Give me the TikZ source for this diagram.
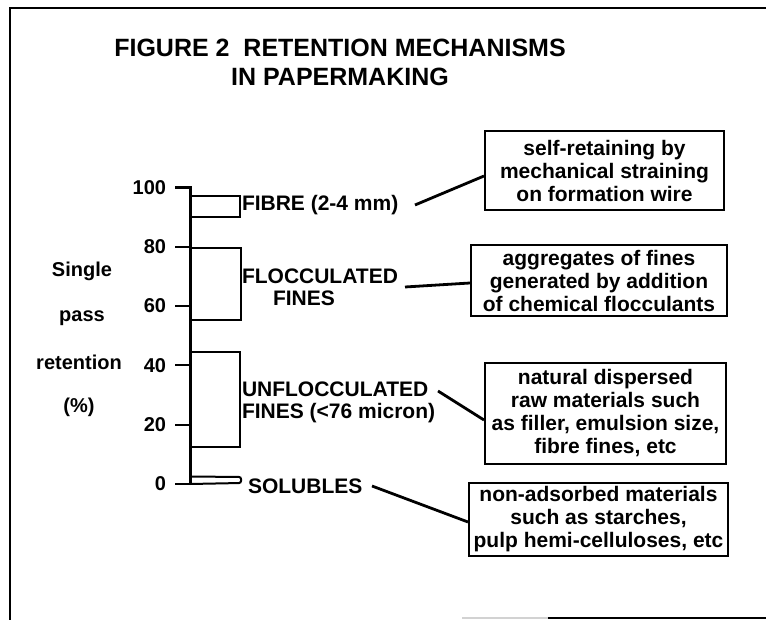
\documentclass[tikz,border=0pt]{standalone}
\usepackage{fontspec}
\setmainfont{Liberation Sans}
\usetikzlibrary{calc}
\newcommand{\labf}{\fontsize{20}{23}\selectfont\bfseries}
\newcommand{\catf}{\fontsize{21}{22}\selectfont\bfseries}
\newcommand{\boxf}{\fontsize{21}{23}\selectfont\bfseries}
\newcommand{\titf}{\fontsize{25}{29}\selectfont\bfseries}
\tikzset{
  lbl/.style={font=\labf, inner sep=0pt, outer sep=0pt},
  cat/.style={font=\catf, inner sep=0pt, outer sep=0pt},
  infobox/.style={draw, line width=2pt, align=center, font=\boxf, inner sep=0pt},
  conn/.style={line width=2.8pt},
  bar/.style={line width=2pt},
  tick/.style={line width=2.2pt}
}
\begin{document}
\begin{tikzpicture}[x=1pt,y=-1pt]
\useasboundingbox (0,0) rectangle (766,620);
% frame
\draw[line width=2.5pt] (766,8) -- (10,8) -- (10,621);
\draw[gray!35, line width=1.5pt] (462,618) -- (548,618);
\draw[line width=2pt] (548,618) -- (766,618);
% title
\node[font=\titf, align=center, inner sep=0pt] (title) at (340,62) {FIGURE 2\ \ RETENTION MECHANISMS\\IN PAPERMAKING};
% y label
\node[lbl] (ylab1) at (82,271) {Single};
\node[lbl] (ylab2) at (82,318) {pass};
\node[lbl] (ylab3) at (79,362) {retention};
\node[lbl] (ylab4) at (79,407) {(\%)};
% axis
\draw[line width=3pt] (190,186.5) -- (190,485);
\foreach \v/\n in {100/t100,80/t80,60/t60,40/t40,20/t20,0/t0}{
  \draw[tick] (175,{484-2.965*\v}) -- (190,{484-2.965*\v});
  \node[lbl, anchor=east] (\n) at (166,{484-2.965*\v}) {\v};
}
% bars
\draw[bar] (190,196) rectangle (240,217);
\draw[bar] (190,248) rectangle (241,320);
\draw[bar] (190,352) rectangle (240,447);
\draw[bar, rounded corners=2pt] (190,476.5) -- (241,477) -- (241,483) -- (190,484);
% category labels
\node[cat, anchor=west] (fibre) at (242,205) {FIBRE (2-4 mm)};
\node[cat, anchor=west, align=left] (flocc) at (242,287) {FLOCCULATED\\\hspace*{31pt}FINES};
\node[cat, anchor=west, align=left] (unflocc) at (242,402) {UNFLOCCULATED\\FINES (<76 micron)};
\node[cat, anchor=west] (solub) at (248,486) {SOLUBLES};
% boxes
\node[infobox, minimum width=239pt, minimum height=79pt] (box1) at (604.5,170.5)
  {self-retaining by\\mechanical straining\\on formation wire};
\node[infobox, minimum width=256pt, minimum height=71pt] (box2) at (599,280.5)
  {aggregates of fines\\generated by addition\\of chemical flocculants};
\node[infobox, minimum width=241pt, minimum height=101pt] (box3) at (605.5,413.5)
  {natural dispersed\\raw materials such\\as filler, emulsion size,\\fibre fines, etc};
\node[infobox, minimum width=259pt, minimum height=73pt] (box4) at (598.5,519.5)
  {non-adsorbed materials\\such as starches,\\pulp hemi-celluloses, etc};
% connectors
\coordinate (c1) at (415,205);
\coordinate (c2) at (405,287);
\coordinate (c3) at (438,391);
\coordinate (c4) at (372,486);
\draw[conn] (c1) -- ([yshift=-5.5pt]box1.west);
\draw[conn] (c2) -- ([yshift=-2.5pt]box2.west);
\draw[conn] (c3) -- ([yshift=-6.5pt]box3.west);
\draw[conn] (c4) -- ([yshift=-2.5pt]box4.west);
\end{tikzpicture}
\end{document}
